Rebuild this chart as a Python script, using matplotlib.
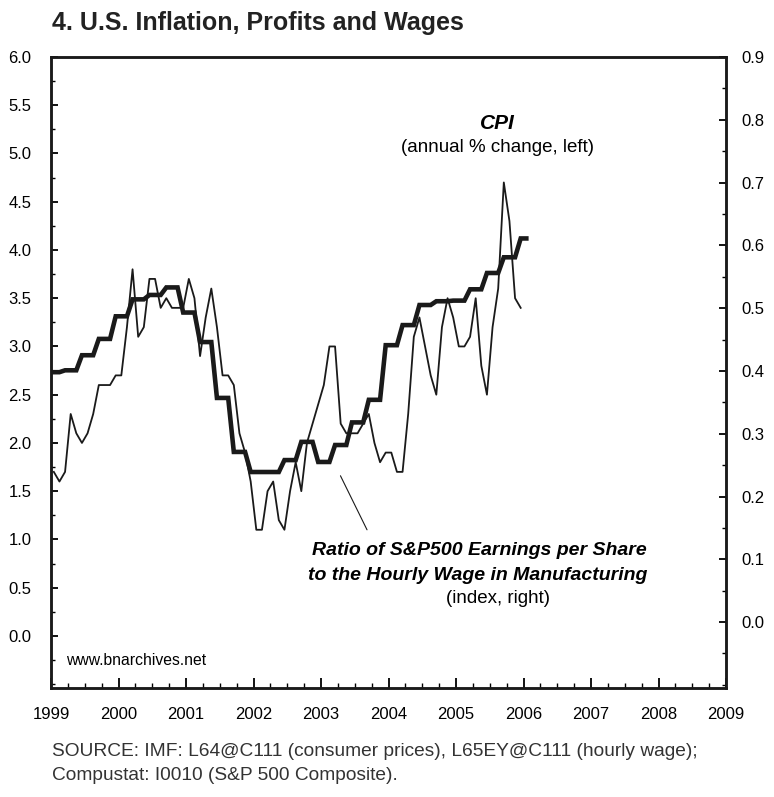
import numpy as np
import matplotlib.pyplot as plt
from matplotlib.ticker import FixedLocator, MultipleLocator, FormatStrFormatter

plt.rcParams['font.family'] = ['Liberation Sans', 'DejaVu Sans']

# CPI, annual % change, monthly Jan 1999 - Dec 2005 (left axis)
cpi = [
    1.7, 1.6, 1.7, 2.3, 2.1, 2.0, 2.1, 2.3, 2.6, 2.6, 2.6, 2.7,  # 1999
    2.7, 3.2, 3.8, 3.1, 3.2, 3.7, 3.7, 3.4, 3.5, 3.4, 3.4, 3.4,  # 2000
    3.7, 3.5, 2.9, 3.3, 3.6, 3.2, 2.7, 2.7, 2.6, 2.1, 1.9, 1.6,  # 2001
    1.1, 1.1, 1.5, 1.6, 1.2, 1.1, 1.5, 1.8, 1.5, 2.0, 2.2, 2.4,  # 2002
    2.6, 3.0, 3.0, 2.2, 2.1, 2.1, 2.1, 2.2, 2.3, 2.0, 1.8, 1.9,  # 2003
    1.9, 1.7, 1.7, 2.3, 3.1, 3.3, 3.0, 2.7, 2.5, 3.2, 3.5, 3.3,  # 2004
    3.0, 3.0, 3.1, 3.5, 2.8, 2.5, 3.2, 3.6, 4.7, 4.3, 3.5, 3.4,  # 2005
]

# EPS / hourly wage ratio, quarterly values shown as monthly steps (right axis)
ratio = [0.398, 0.401, 0.425, 0.451, 0.487, 0.514, 0.521, 0.533, 0.493,
         0.446, 0.357, 0.271, 0.239, 0.239, 0.258, 0.287, 0.255, 0.282,
         0.318, 0.354, 0.441, 0.473, 0.505, 0.511, 0.512, 0.530, 0.556,
         0.581, 0.611]
ratio_months = [2] + [3] * 27 + [2]

years = list(range(1999, 2010))

ratio_m = np.repeat(ratio, ratio_months)
t_cpi = 1999 + (np.arange(len(cpi)) + 0.5) / 12
t_ratio = 1999 + (np.arange(len(ratio_m)) + 0.5) / 12

fig = plt.figure(figsize=(7.74, 7.97), dpi=100)
ax = fig.add_axes([51 / 774, 1 - 688 / 797, 675 / 774, 631 / 797])
ax2 = ax.twinx()

ax.plot(t_cpi, cpi, color='#1a1a1a', lw=1.3, zorder=3)
ax2.plot(t_ratio, ratio_m, color='#1a1a1a', lw=3.3, solid_joinstyle='miter')

ax.set_xlim(1999, 2009)
ax.set_ylim(-0.54, 6.0)
ax2.set_ylim(-0.105, 0.9)

ax.xaxis.set_major_locator(FixedLocator(years))
ax.xaxis.set_minor_locator(MultipleLocator(0.25))
ax.yaxis.set_major_locator(FixedLocator(np.arange(0, 6.01, 0.5)))
ax.yaxis.set_minor_locator(MultipleLocator(0.25))
ax.yaxis.set_major_formatter(FormatStrFormatter('%.1f'))
ax2.yaxis.set_major_locator(FixedLocator(np.arange(0, 0.91, 0.1)))
ax2.yaxis.set_minor_locator(MultipleLocator(0.05))
ax2.yaxis.set_major_formatter(FormatStrFormatter('%.1f'))

ax.tick_params(axis='x', which='major', direction='in', length=7, width=1.3,
               pad=14, labelsize=12, top=False)
ax.tick_params(axis='x', which='minor', direction='in', length=3.5, width=1.0, top=False)
ax.tick_params(axis='y', which='major', direction='in', length=5, width=1.3,
               pad=14, labelsize=12)
ax.tick_params(axis='y', which='minor', direction='in', length=3, width=1.0)
ax2.tick_params(axis='y', which='major', direction='in', length=5, width=1.3,
                pad=11, labelsize=12)
ax2.tick_params(axis='y', which='minor', direction='in', length=3, width=1.0)

for a in (ax, ax2):
    for s in a.spines.values():
        s.set_linewidth(1.8)
        s.set_color('#1a1a1a')

ax.text(2005.62, 5.31, 'CPI', ha='center', va='center', fontsize=15,
        fontweight='bold', style='italic')
ax.text(2005.62, 5.06, '(annual % change, left)', ha='center', va='center',
        fontsize=13.5)
ax.text(2005.35, 0.88, 'Ratio of S&P500 Earnings per Share', ha='center',
        va='center', fontsize=14, fontweight='bold', style='italic')
ax.text(2005.32, 0.63, 'to the Hourly Wage in Manufacturing', ha='center',
        va='center', fontsize=14, fontweight='bold', style='italic')
ax.text(2005.62, 0.39, '(index, right)', ha='center', va='center', fontsize=13.5)
ax2.annotate('', xy=(2003.27, 0.237), xytext=(2003.70, 0.143),
             arrowprops=dict(arrowstyle='-', color='#1a1a1a', lw=0.8))

ax.text(0.022, 0.044, 'www.bnarchives.net', transform=ax.transAxes,
        fontsize=11.3, va='center')

fig.text(52 / 774, 1 - 23 / 797, '4. U.S. Inflation, Profits and Wages',
         fontsize=18, fontweight='bold', va='center', color='#222222')
fig.text(52 / 774, 1 - 751 / 797,
         'SOURCE: IMF: L64@C111 (consumer prices), L65EY@C111 (hourly wage);',
         fontsize=13.8, va='center', color='#333333')
fig.text(52 / 774, 1 - 775 / 797, 'Compustat: I0010 (S&P 500 Composite).',
         fontsize=13.8, va='center', color='#333333')

fig.savefig('out.png', dpi=100)
